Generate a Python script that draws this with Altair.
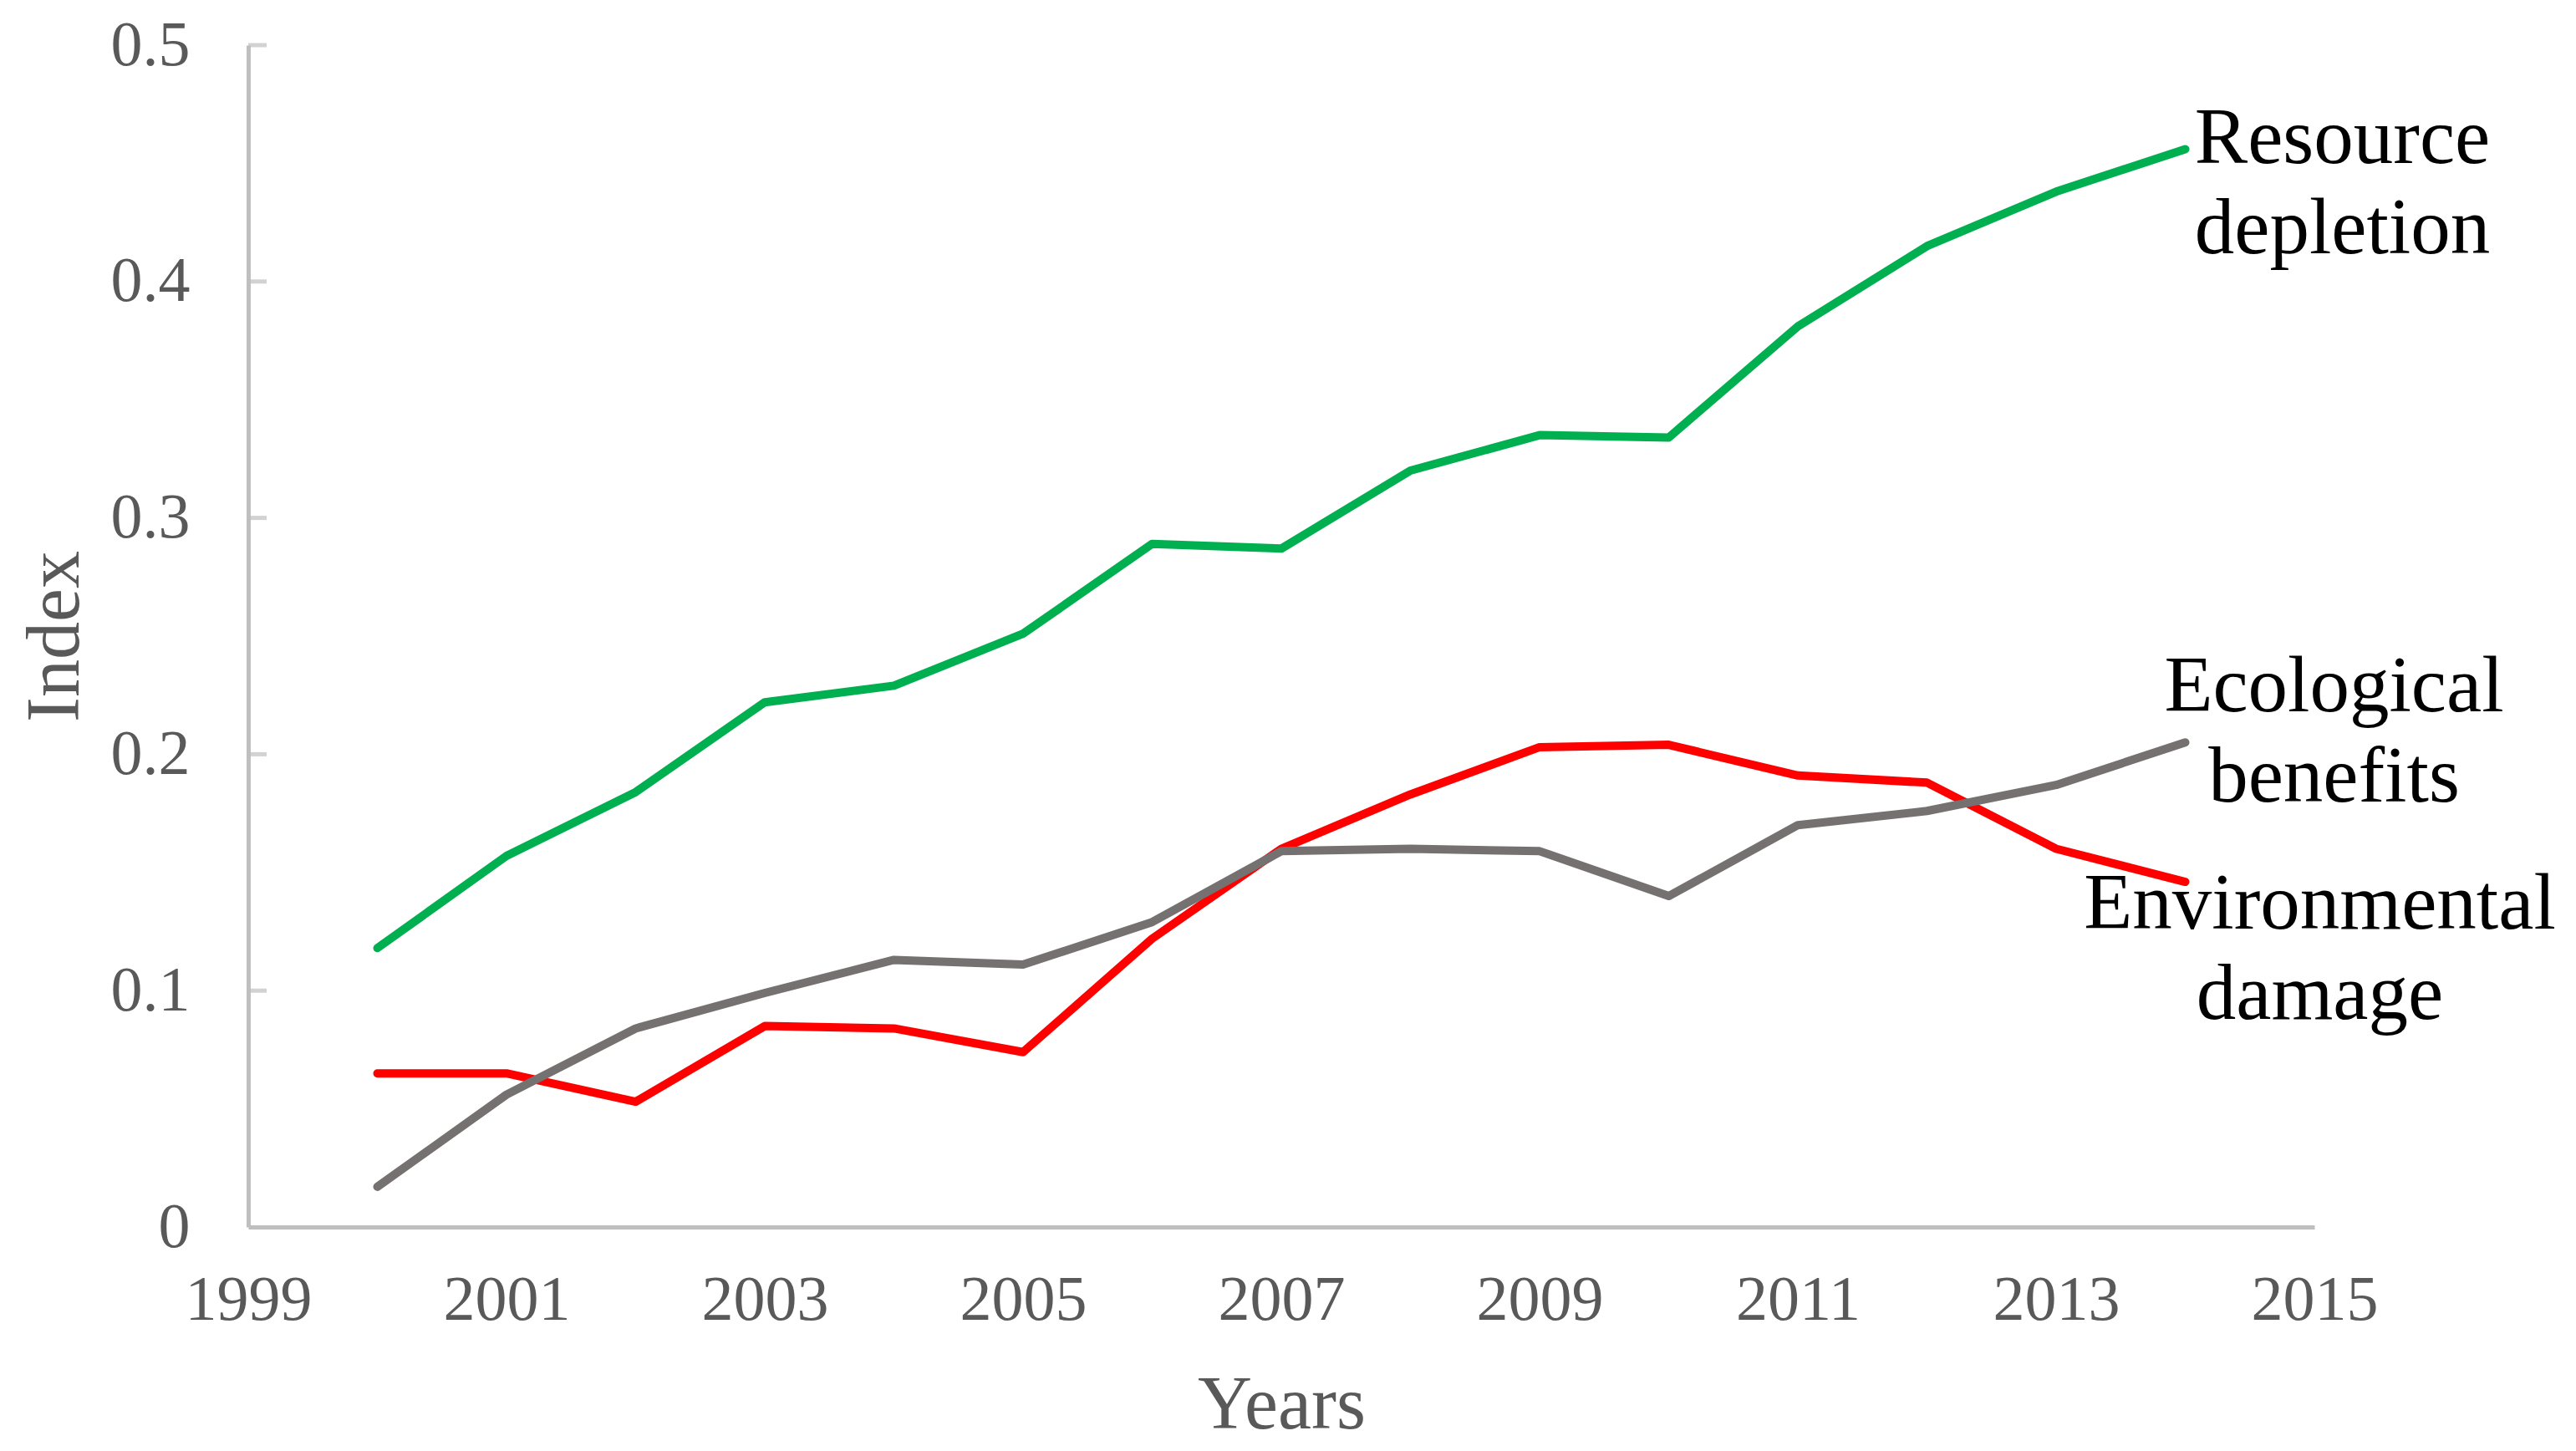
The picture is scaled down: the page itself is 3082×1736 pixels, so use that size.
import altair as alt
import pandas as pd

# ---- data ----
years = list(range(2000, 2015))
resource = [0.118, 0.157, 0.184, 0.222, 0.229, 0.251, 0.289, 0.287, 0.320, 0.335, 0.334, 0.381, 0.415, 0.438, 0.456]
environmental = [0.065, 0.065, 0.053, 0.085, 0.084, 0.074, 0.122, 0.160, 0.183, 0.203, 0.204, 0.191, 0.188, 0.160, 0.146]
ecological = [0.017, 0.056, 0.084, 0.099, 0.113, 0.111, 0.129, 0.159, 0.160, 0.159, 0.140, 0.170, 0.176, 0.187, 0.205]

x_ticks = [1999, 2001, 2003, 2005, 2007, 2009, 2011, 2013, 2015]
y_ticks = [0, 0.1, 0.2, 0.3, 0.4, 0.5]

FONT = "Liberation Serif"
AXIS_GREY = "#BFBFBF"
TEXT_GREY = "#595959"

series = [
    ("Resource depletion", resource, "#00B050", ["Resource", "depletion"], 188, -12),
    ("Environmental damage", environmental, "#FF0000", ["Environmental", "damage"], 161, 27),
    ("Ecological benefits", ecological, "#767171", ["Ecological", "benefits"], 178, -66),
]

x_scale = alt.Scale(domain=[1999, 2015], nice=False, zero=False)
y_scale = alt.Scale(domain=[0, 0.5], nice=False)

x_axis = alt.Axis(values=x_ticks, format="d", title="Years", labelPadding=50,
                  titlePadding=44, ticks=False, tickSize=0, grid=False, labelFlush=False)
y_axis = alt.Axis(values=y_ticks, format=".1~f", title="Index", labelPadding=70,
                  titlePadding=20, ticks=False, tickSize=0, grid=False)

layers = []

# inner tick marks on the y axis
tick_df = pd.DataFrame({"value": y_ticks[1:]})
layers.append(
    alt.Chart(tick_df).mark_tick(orient="horizontal", size=22, thickness=5, color=AXIS_GREY)
    .encode(y=alt.Y("value:Q", scale=y_scale, axis=y_axis), x=alt.value(11))
)

for name, vals, color, label, dx, dy in series:
    df = pd.DataFrame({"year": years, "value": vals, "series": name})
    layers.append(
        alt.Chart(df).mark_line(color=color, strokeWidth=10, strokeCap="round", strokeJoin="round")
        .encode(x=alt.X("year:Q", scale=x_scale, axis=x_axis),
                y=alt.Y("value:Q", scale=y_scale, axis=y_axis))
    )

for name, vals, color, label, dx, dy in series:
    last = pd.DataFrame({"year": [years[-1]], "value": [vals[-1]]})
    layers.append(
        alt.Chart(last).mark_text(text=label, font=FONT, fontSize=95, color="#000000",
                                  align="center", baseline="middle", lineHeight=108,
                                  dx=dx, dy=dy)
        .encode(x=alt.X("year:Q", scale=x_scale), y=alt.Y("value:Q", scale=y_scale))
    )

chart = (
    alt.layer(*layers)
    .properties(width=2472, height=1414,
                autosize=alt.AutoSizeParams(type="none"),
                padding={"left": 289, "top": 46, "right": 305, "bottom": 260})
    .configure_view(stroke=None)
    .configure_axis(domainColor=AXIS_GREY, domainWidth=5,
                    labelFont=FONT, labelFontSize=76, labelColor=TEXT_GREY,
                    titleFont=FONT, titleFontSize=90, titleColor=TEXT_GREY,
                    titleFontWeight="normal")
)

chart.save("out.html", embed_options={"renderer": "svg", "actions": False})
